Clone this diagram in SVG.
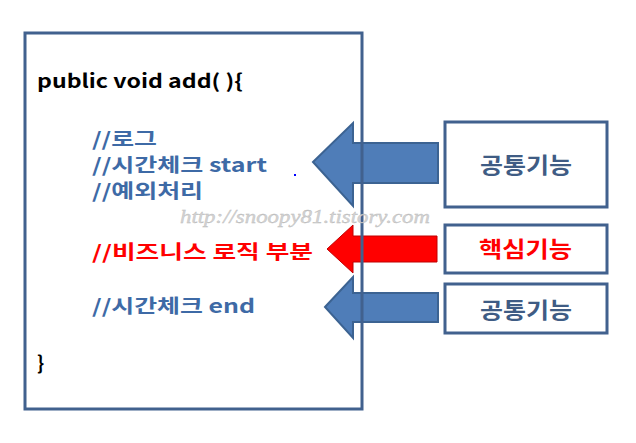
<svg xmlns="http://www.w3.org/2000/svg" width="636" height="443" viewBox="0 0 636 443">
<style>
.box{fill:#fff;stroke:#41618E;stroke-width:3}
.code{font-family:"Noto Sans CJK KR","Noto Sans",sans-serif;font-weight:bold;font-size:19px}
.blk{fill:#000}
.blu{fill:#3E6AA6}
.red{fill:#FF0000}
.lbl{font-family:"Noto Sans CJK KR","Noto Sans",sans-serif;font-weight:bold;font-size:22px}
.lb{fill:#3F5C84}
.arrB{fill:#4F7DB8;stroke:#3C6392;stroke-width:2}
.arrR{fill:#FF0000;stroke:#C00000;stroke-width:1}
.wm{font-family:"Liberation Serif",serif;font-style:italic;font-size:18px;fill:#d4d4d4;stroke:#b8b8b8;stroke-width:0.3}
</style>
<g id="connectors">
<path class="arrB" d="M313,162 L353,123 L353,143 L438,143 L438,183 L353,183 L353,206 Z"/>
<path class="arrR" d="M327,249 L353,225 L353,236 L437,236 L437,262 L353,262 L353,273 Z"/>
<path class="arrB" d="M325,307 L353,277 L353,293 L438,293 L438,322 L353,322 L353,338 Z"/>
</g>
<g id="code-box">
<rect x="25" y="33" width="337" height="376" fill="none" stroke="#41618E" stroke-width="3"/>
<text class="code blk" x="37" y="88" textLength="206" lengthAdjust="spacingAndGlyphs">public void add( ){</text>
<text class="code blu" x="92" y="146" textLength="65" lengthAdjust="spacingAndGlyphs">//로그</text>
<text class="code blu" x="92" y="172" textLength="175" lengthAdjust="spacingAndGlyphs">//시간체크 start</text>
<text class="code blu" x="92" y="198" textLength="111" lengthAdjust="spacingAndGlyphs">//예외처리</text>
<text class="code red" x="92" y="259" textLength="221" lengthAdjust="spacingAndGlyphs">//비즈니스 로직 부분</text>
<text class="code blu" x="92" y="313" textLength="163" lengthAdjust="spacingAndGlyphs">//시간체크 end</text>
<text class="code blk" x="37" y="370">}</text>
<rect x="294" y="174" width="2" height="2" fill="#0000ff"/>
</g>
<g id="common1">
<rect class="box" x="445" y="122" width="162" height="85"/>
<text class="lbl lb" x="480" y="173" textLength="92" lengthAdjust="spacingAndGlyphs">공통기능</text>
</g>
<g id="core">
<rect class="box" x="445" y="225" width="162" height="48"/>
<text class="lbl red" x="479" y="257" textLength="93" lengthAdjust="spacingAndGlyphs">핵심기능</text>
</g>
<g id="common2">
<rect class="box" x="445" y="284" width="162" height="49"/>
<text class="lbl lb" x="480" y="318" textLength="92" lengthAdjust="spacingAndGlyphs">공통기능</text>
</g>
<text class="wm" x="180" y="223" textLength="250" lengthAdjust="spacingAndGlyphs">http://snoopy81.tistory.com</text>
</svg>
